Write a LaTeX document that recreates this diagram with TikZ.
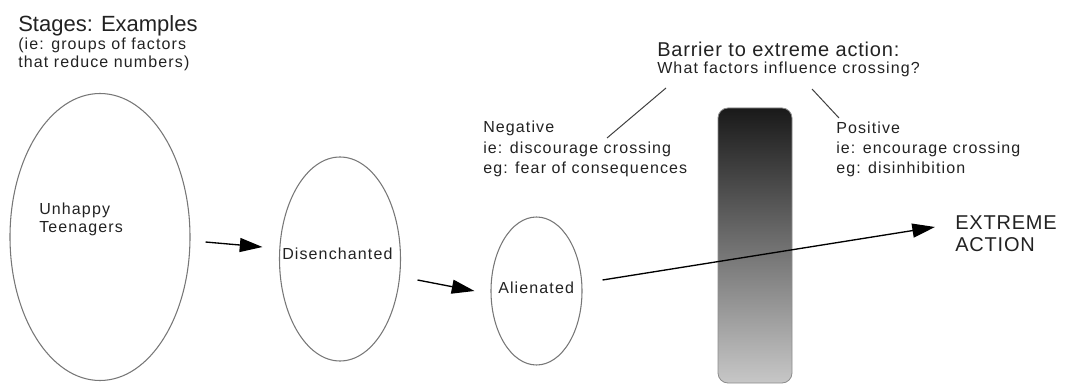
\documentclass[tikz,border=0pt]{standalone}
\usepackage{fontspec}
\setmainfont{Liberation Sans}
\newfontfamily\lsA[LetterSpace=7]{Liberation Sans}
\newfontfamily\lsB[LetterSpace=4]{Liberation Sans}
\usetikzlibrary{shapes.geometric,arrows.meta,calc}
\definecolor{inkc}{HTML}{222222}
\definecolor{ringc}{HTML}{777777}
\begin{document}
\begin{tikzpicture}[x=0.75pt,y=-0.75pt,
  stage/.style={ellipse,draw=ringc,line width=0.8pt,inner sep=0pt},
  txt/.style={anchor=base west,inner sep=0pt,text=inkc,align=left},
  small/.style={font=\lsA\fontsize{12}{#1}\selectfont},
  arr/.style={draw=black,line width=1pt,-{Triangle[length=17pt,width=10.5pt]}},
  leader/.style={draw=black!75,line width=0.75pt},
  barrierbox/.style={rectangle,rounded corners=7.5pt,draw=black!45,line width=0.6pt,
     top color=black!90,bottom color=black!22,inner sep=0pt}]
\useasboundingbox (0,0) rectangle (1065,385);

% titles (multi-line nodes: base = baseline of last line)
\node[txt,font=\fontsize{16.5}{19}\selectfont] (title) at (18,32) {Stages: Examples};
\node[txt,small=13.5] (sub) at (18,68) {(ie: groups of factors\\that reduce numbers)};
\node[txt,font=\lsB\fontsize{15}{17}\selectfont] (barriertitle) at (657,57) {Barrier to extreme action:};
\node[txt,small=14] (what) at (657,74) {What factors influence crossing?};

% stages
\node[stage,minimum width={180*0.75pt},minimum height={287*0.75pt}] (e1) at (100,237) {};
\node[stage,minimum width={121*0.75pt},minimum height={204*0.75pt}] (e2) at (340,259) {};
\node[stage,minimum width={91*0.75pt},minimum height={148*0.75pt}] (e3) at (536.5,291) {};
\node[txt,small=13.5] (t1) at (39,233) {Unhappy\\Teenagers};
\node[txt,small=14] (t2) at (282,259) {Disenchanted};
\node[txt,small=14] (t3) at (498,293) {Alienated};

% barrier
\node[barrierbox,minimum width={74*0.75pt},minimum height={275*0.75pt}] (barrier) at (755,245.5) {};

% factor texts
\node[txt,small=15.4] (neg) at (483,174) {Negative\\ie: discourage crossing\\eg: fear of consequences};
\node[txt,small=15] (pos) at (836,173) {Positive\\ie: encourage crossing\\eg: disinhibition};
\node[txt,font=\lsB\fontsize{15}{16.5}\selectfont] (ext) at (955,251) {EXTREME\\ACTION};

% leaders
\draw[leader] ($(what.base west)+(9,14)$) -- ($(neg.base west)+(124,-36)$);
\draw[leader] ($(what.base west)+(155,15)$) -- ($(pos.base west)+(3,-55)$);

% arrows
\draw[arr] ($(e1.east)+(15,5)$) -- ($(e2.west)+(-16.5,-12)$);
\draw[arr] ($(e2.east)+(16.5,21)$) -- ($(e3.west)+(-16,0)$);
\draw[arr] ($(e3.east)+(20,-11)$) -- ($(ext.base west)+(-20,-24)$);
\end{tikzpicture}
\end{document}
